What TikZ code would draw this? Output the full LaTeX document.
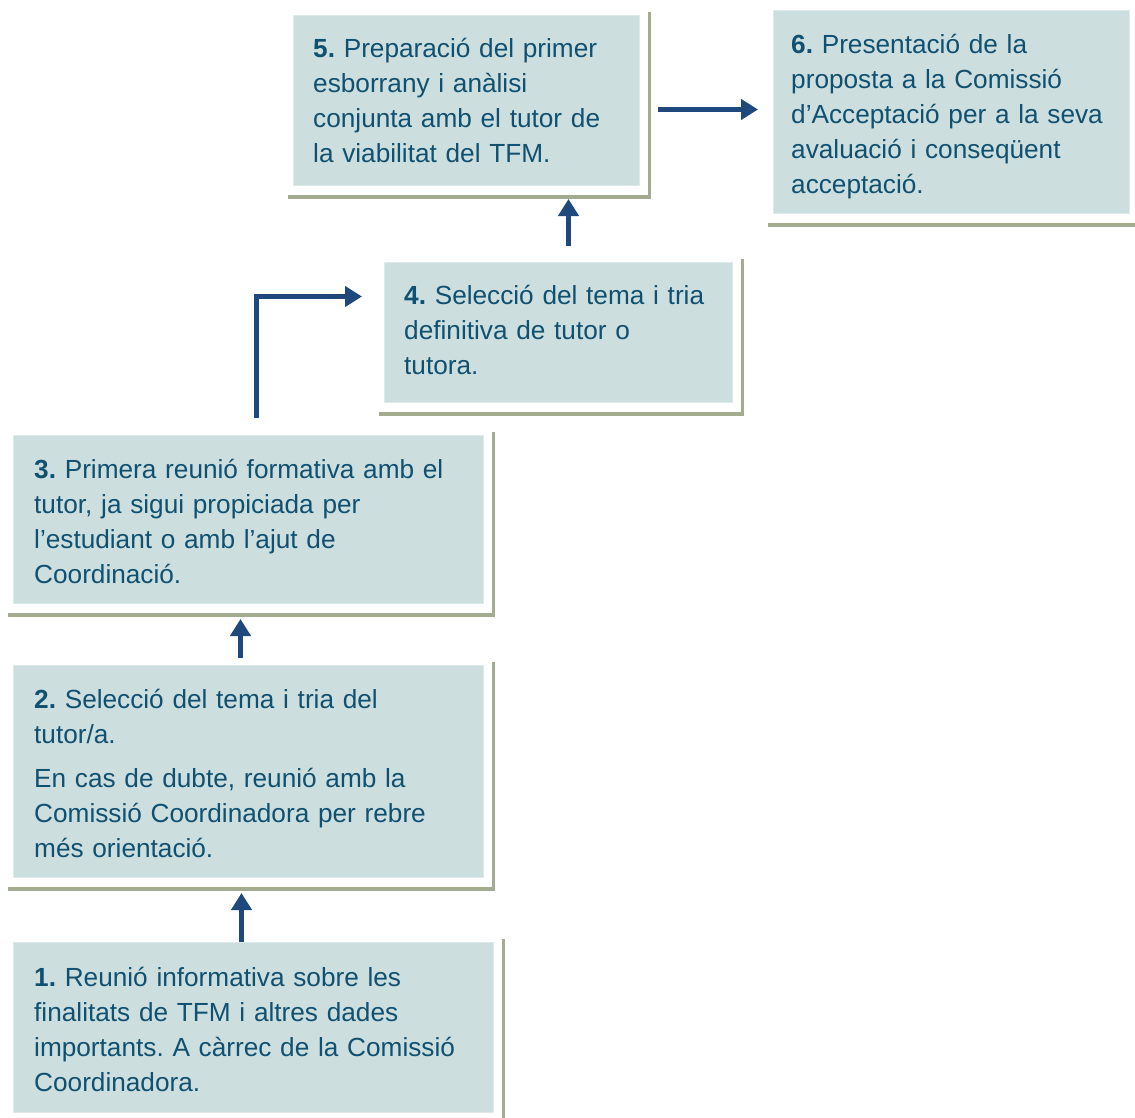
\documentclass[tikz,border=0pt]{standalone}
\usepackage{fontspec}
\setmainfont{Liberation Sans}
\usetikzlibrary{arrows.meta,calc}
\definecolor{boxfill}{RGB}{204,222,222}
\definecolor{boxedge}{RGB}{222,234,232}
\definecolor{shadowc}{RGB}{163,172,143}
\definecolor{txt}{RGB}{16,80,112}
\definecolor{arrc}{RGB}{31,73,125}
\frenchspacing
\hyphenpenalty=10000
\begin{document}
\begin{tikzpicture}[x=1pt,y=-1pt,
  box/.style={fill=boxfill,draw=boxedge,line width=1pt,inner sep=0pt,anchor=north west},
  boxtext/.style={anchor=north west,inner sep=0pt,text width=600pt,align=left,text=txt,
    font=\fontsize{26.2pt}{35pt}\selectfont},
  shadowline/.style={draw=shadowc},
  arr/.style={draw=arrc,line width=5.5pt,-{Triangle[length=17pt,width=20pt]}}]
\useasboundingbox (0,0) rectangle (1135,1117);

% boxes
\node[box,minimum width=346pt,minimum height=170pt] (b5) at (293,15) {};
\node[box,minimum width=356pt,minimum height=203pt] (b6) at (773,10) {};
\node[box,minimum width=348pt,minimum height=140pt] (b4) at (384,262) {};
\node[box,minimum width=470pt,minimum height=168pt] (b3) at (13,435) {};
\node[box,minimum width=470pt,minimum height=212pt] (b2) at (13,665) {};
\node[box,minimum width=480pt,minimum height=170pt] (b1) at (13,942) {};

% shadows
\foreach \b in {b1,b2,b3,b4,b5,b6}{
  \draw[shadowline,line width=4pt] ([xshift=-5pt,yshift=-11pt]\b.south west) -- ([xshift=11pt,yshift=-11pt]\b.south east);
  \draw[shadowline,line width=3pt] ([xshift=9.5pt,yshift=3pt]\b.north east) -- ([xshift=9.5pt,yshift=-13pt]\b.south east);
}

% texts
\node[boxtext] (t5) at (313,32.5) {\strut\frenchspacing\textbf{5.} Preparació del primer\\esborrany i anàlisi\\conjunta amb el tutor de\\la viabilitat del TFM.};
\node[boxtext] (t6) at (791,28.5) {\strut\frenchspacing\textbf{6.} Presentació de la\\proposta a la Comissió\\d’Acceptació per a la seva\\avaluació i conseqüent\\acceptació.};
\node[boxtext] (t4) at (404,279.5) {\strut\frenchspacing\textbf{4.} Selecció del tema i tria\\definitiva de tutor o\\tutora.};
\node[boxtext] (t3) at (34,453.5) {\strut\frenchspacing\textbf{3.} Primera reunió formativa amb el\\tutor, ja sigui propiciada per\\l’estudiant o amb l’ajut de\\Coordinació.};
\node[boxtext] (t2) at (34,683.5) {\strut\frenchspacing\textbf{2.} Selecció del tema i tria del\\tutor/a.\\[9pt]En cas de dubte, reunió amb la\\Comissió Coordinadora per rebre\\més orientació.};
\node[boxtext] (t1) at (34,961.5) {\strut\frenchspacing\textbf{1.} Reunió informativa sobre les\\finalitats de TFM i altres dades\\importants. A càrrec de la Comissió\\Coordinadora.};

% connectors
\draw[arr,shorten >=15pt] ([xshift=-12pt]b1.north) -- ([xshift=-12pt]b1.north |- b2.south);
\draw[arr,shorten <=7pt,shorten >=15pt] ([xshift=-8pt]b2.north) -- ([xshift=-8pt]b2.north |- b3.south);
\draw[arr,shorten <=17pt,shorten >=22pt] ([xshift=8pt]b3.north) |- ([yshift=36pt]b4.west);
\draw[arr,shorten <=16pt,shorten >=13pt] ([xshift=10pt]b4.north) -- ([xshift=10pt]b4.north |- b5.south);
\draw[arr,shorten <=18pt,shorten >=15pt] ([yshift=-9pt]b5.east) -- ([yshift=-9pt]b5.east -| b6.west);
\end{tikzpicture}
\end{document}
